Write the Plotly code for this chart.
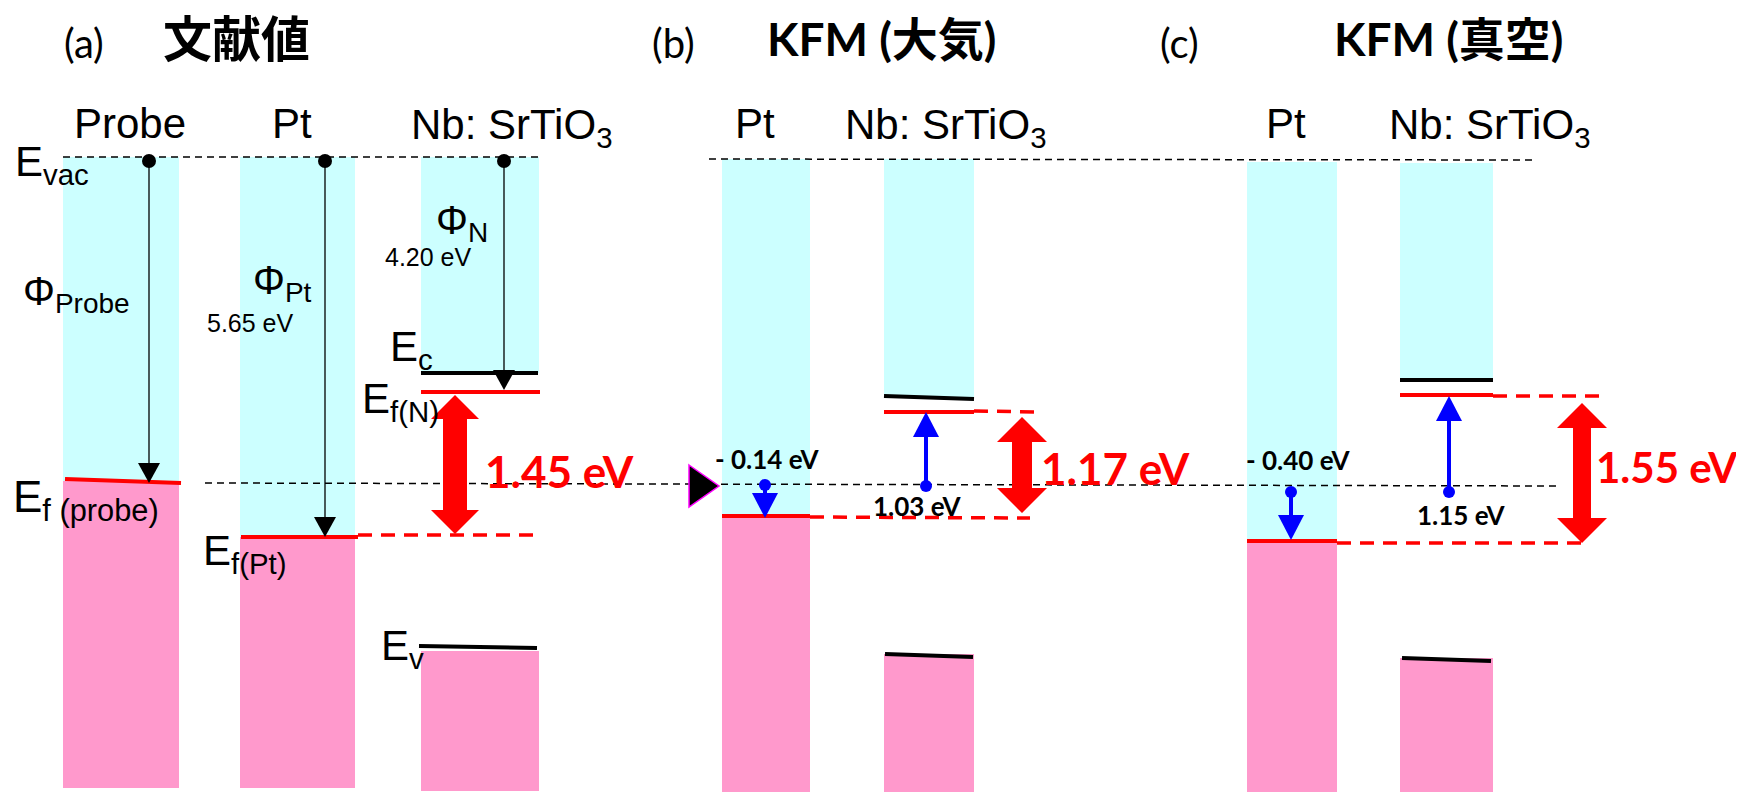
import plotly.graph_objects as go

# ---------------- data (text + values) ----------------
panel_tags = ["(a)", "(b)", "(c)"]
panel_titles = ["文献値", "KFM (大気)", "KFM (真空)"]
materials_a = ["Probe", "Pt", "Nb: SrTiO<sub>3</sub>"]
materials_bc = ["Pt", "Nb: SrTiO<sub>3</sub>"]

work_function_lit = [5.65, 4.20]      # Pt, Nb:SrTiO3 (literature)
kfm_pt_shift = [-0.14, -0.40]         # (b) air, (c) vacuum
kfm_nb_shift = [1.03, 1.15]           # (b) air, (c) vacuum
barrier_height = [1.45, 1.17, 1.55]   # (a), (b), (c)

# ---------------- schematic geometry (diagram units) ----------------
# columns: x0, x1, vacuum level, cyan bottom, pink top, bottom
columns = [
    (63, 179, 157, 481, 481, 788),
    (240, 355, 157, 537, 537, 788),
    (421, 539, 157, 373, 651, 791),
    (722, 810, 159, 516, 516, 792),
    (884, 974, 159, 397, 654, 792),
    (1247, 1337, 162, 541, 541, 792),
    (1400, 1493, 163, 380, 658, 792),
]
black_dashed = [(63, 157, 538, 157), (709, 159, 1533, 160), (205, 483, 1558, 486)]
red_levels = [(65, 479, 181, 483), (241, 537, 358, 537), (421, 392, 540, 392),
              (722, 516, 810, 516), (884, 412, 974, 412),
              (1247, 541, 1337, 541), (1400, 395, 1493, 395)]
red_dashed = [(358, 535, 536, 535), (810, 517, 1030, 518), (974, 411, 1040, 412),
              (1337, 543, 1590, 543), (1493, 396, 1601, 396)]
band_edges = [(421, 373, 538, 373), (419, 646, 537, 648), (884, 396, 974, 399),
              (885, 654, 973, 657), (1400, 380, 1493, 380), (1402, 658, 1491, 661)]
phi_arrows = [(149, 161, 483), (325, 161, 537), (504, 161, 390)]
kfm_arrows = [(765, 485, 518), (926, 486, 412), (1291, 492, 540), (1449, 492, 396)]
big_arrows = [(455, 395, 534, 48, 24, 24), (1022, 417, 513, 50, 25, 20), (1582, 403, 543, 50, 25, 18)]

CYAN = "#CCFFFF"
PINK = "#FF99CC"
RED = "#FF0000"
BLUE = "#0000FF"
ARIAL = "Liberation Sans, Arial, sans-serif"
CALIBRI = "Lato, Noto Sans CJK JP, sans-serif"

shapes = []


def rect(x0, x1, y0, y1, color):
    shapes.append(dict(type="rect", xref="x", yref="y", x0=x0, x1=x1, y0=y0, y1=y1,
                       fillcolor=color, line=dict(width=0), layer="above"))


def line(x0, y0, x1, y1, color, width, dash="solid"):
    shapes.append(dict(type="line", xref="x", yref="y", x0=x0, y0=y0, x1=x1, y1=y1,
                       line=dict(color=color, width=width, dash=dash), layer="above"))


def poly(pts, color, edge=None, ew=0):
    path = "M " + " L ".join(f"{x},{y}" for x, y in pts) + " Z"
    shapes.append(dict(type="path", xref="x", yref="y", path=path, fillcolor=color,
                       line=dict(color=edge or color, width=ew), layer="above"))


def dot(cx, cy, r, color):
    shapes.append(dict(type="circle", xref="x", yref="y", x0=cx - r, x1=cx + r,
                       y0=cy - r, y1=cy + r, fillcolor=color, line=dict(width=0), layer="above"))


def arrow(x, y0, tip, color, lw, hw, hh, r):
    d = 1 if tip > y0 else -1
    line(x, y0, x, tip - d * hh, color, lw)
    poly([(x - hw / 2, tip - d * hh), (x + hw / 2, tip - d * hh), (x, tip)], color)
    dot(x, y0, r, color)


def double_arrow(cx, top, bot, hw, hh, sw):
    poly([(cx, top), (cx + hw / 2, top + hh), (cx + sw / 2, top + hh), (cx + sw / 2, bot - hh),
          (cx + hw / 2, bot - hh), (cx, bot), (cx - hw / 2, bot - hh), (cx - sw / 2, bot - hh),
          (cx - sw / 2, top + hh), (cx - hw / 2, top + hh)], RED)


for x0, x1, vac, cb, vt, bot in columns:
    rect(x0, x1, vac, cb, CYAN)
    rect(x0, x1, vt, bot, PINK)
for x0, y0, x1, y1 in black_dashed:
    line(x0, y0, x1, y1, "black", 1.5, "7px,5px")
for x0, y0, x1, y1 in red_dashed:
    line(x0, y0, x1, y1, RED, 3.5, "14px,9px")
for x0, y0, x1, y1 in red_levels:
    line(x0, y0, x1, y1, RED, 4)
for x0, y0, x1, y1 in band_edges:
    line(x0, y0, x1, y1, "black", 4)
for x, y0, tip in phi_arrows:
    arrow(x, y0, tip, "black", 1.3, 22, 20, 7)
for x, y0, tip in kfm_arrows:
    arrow(x, y0, tip, BLUE, 4, 26, 25, 6)
for cx, top, bot, hw, hh, sw in big_arrows:
    double_arrow(cx, top, bot, hw, hh, sw)
poly([(689, 465), (719, 486), (689, 507)], "black", "#FF00FF", 1.5)

annotations = []


def txt(x, y, s, size, color="black", family=ARIAL, weight="normal", xanchor="center"):
    annotations.append(dict(x=x, y=y, xref="x", yref="y", text=s, showarrow=False,
                            xanchor=xanchor, yanchor="middle",
                            font=dict(size=size, color=color, family=family, weight=weight)))


# panel tags and titles
for tag, tx in zip(panel_tags, [84, 673, 1179]):
    txt(tx, 43, tag, 40, family=CALIBRI)
for title, tx, sz in zip(panel_titles, [236, 881, 1448], [49, 46, 46]):
    txt(tx, 38, title, sz, family=CALIBRI, weight="bold")

# material labels
for lab, tx, anc in zip(materials_a, [130, 292, 409], ["center", "center", "left"]):
    txt(tx, 127 if "sub" in lab else 123, lab, 42, xanchor=anc)
for px, nx in [(755, 843), (1286, 1387)]:
    txt(px, 123, materials_bc[0], 42)
    txt(nx, 127, materials_bc[1], 42, xanchor="left")

# level labels panel (a)
sub_off = 6
txt(13, 158 + sub_off, "E<sub>vac</sub>", 42, xanchor="left")
txt(388, 343 + sub_off, "E<sub>c</sub>", 42, xanchor="left")
txt(360, 395 + sub_off, "E<sub>f(N)</sub>", 42, xanchor="left")
txt(11, 494 + sub_off, "E<sub>f (probe)</sub>", 44, xanchor="left")
txt(201, 547 + sub_off, "E<sub>f(Pt)</sub>", 42, xanchor="left")
txt(379, 642 + sub_off, "E<sub>v</sub>", 42, xanchor="left")
txt(21, 288 + sub_off, "Φ<sub>Probe</sub>", 40, xanchor="left")
txt(251, 277 + sub_off, "Φ<sub>Pt</sub>", 40, xanchor="left")
txt(434, 217 + sub_off, "Φ<sub>N</sub>", 40, xanchor="left")
txt(250, 323, f"{work_function_lit[0]:.2f} eV", 25)
txt(428, 257, f"{work_function_lit[1]:.2f} eV", 25)

# KFM shift labels
for val, (x, y) in zip(kfm_pt_shift, [(767, 459), (1298, 460)]):
    txt(x, y, f"- {abs(val):.2f} eV", 26, family=CALIBRI, weight="bold")
for val, (x, y) in zip(kfm_nb_shift, [(917, 506), (1461, 515)]):
    txt(x, y, f"{val:.2f} eV", 26, family=CALIBRI, weight="bold")

# barrier heights
for val, (x, y, sz) in zip(barrier_height, [(483, 471, 44), (1039, 468, 44), (1594, 467, 42)]):
    txt(x, y, f"{val:.2f} eV", sz, color=RED, family=CALIBRI, weight="bold", xanchor="left")

fig = go.Figure(go.Scatter(x=[], y=[], mode="markers", showlegend=False))
fig.update_layout(
    width=1744, height=793, margin=dict(l=0, r=0, t=0, b=0),
    paper_bgcolor="white", plot_bgcolor="white",
    shapes=shapes, annotations=annotations, showlegend=False,
)
fig.update_xaxes(range=[8, 1752], visible=False, fixedrange=True)
fig.update_yaxes(range=[801, 8], visible=False, fixedrange=True)
fig.write_html("out.html")
